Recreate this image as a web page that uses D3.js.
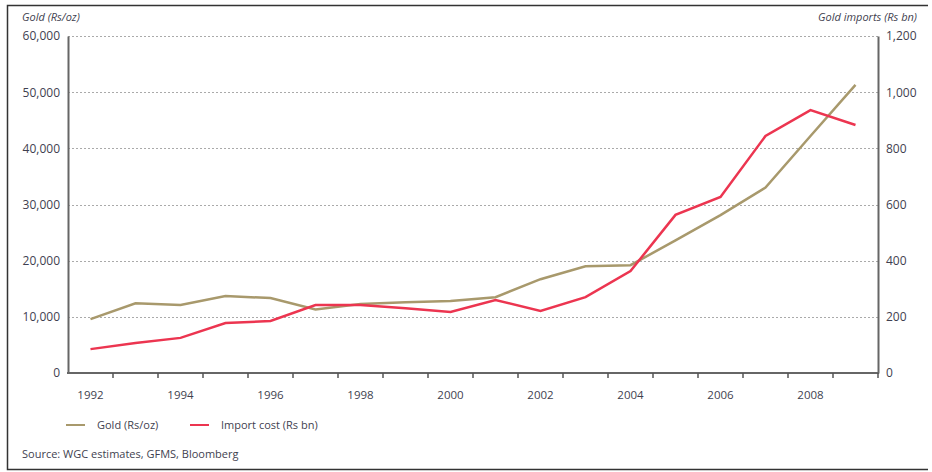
<!DOCTYPE html>
<html>
<head>
<meta charset="utf-8">
<title>Gold price and import cost</title>
<script src="https://cdn.jsdelivr.net/npm/d3@7/dist/d3.min.js"></script>
<style>
  body { margin: 0; background: #fff; }
  svg text { font-family: "Open Sans", "Liberation Sans", sans-serif; fill: #3f3f50; }
</style>
</head>
<body>
<script>
// data
var years = [1992,1993,1994,1995,1996,1997,1998,1999,2000,2001,2002,2003,2004,2005,2006,2007,2008,2009];
var goldPrice = [9600,12400,12100,13700,13350,11300,12300,12600,12800,13500,16700,19000,19200,23600,28100,33000,42200,51300];
var importCost = [85,107,125,178,185,242,242,231,217,260,221,270,363,563,627,844,936,883];
var leftTicks = [0,10000,20000,30000,40000,50000,60000];
var rightTicks = [0,200,400,600,800,1000,1200];
var yearLabels = [1992,1994,1996,1998,2000,2002,2004,2006,2008];

var W = 932, H = 472;
var mLeft = 68, mRight = 878, mTop = 36, mBottom = 373;
var goldCol = "#a8996c", redCol = "#ec3550";

var svg = d3.select("body").append("svg").attr("width", W).attr("height", H);

// frame
svg.append("path")
    .attr("d", "M928,5.5H7.5V469.5H928")
    .attr("fill", "none").attr("stroke", "#333").attr("stroke-width", 1.5);

var x = d3.scaleBand().domain(years).range([mLeft, mRight]);
var yL = d3.scaleLinear().domain([0, 60000]).range([mBottom, mTop]);
var yR = d3.scaleLinear().domain([0, 1200]).range([mBottom, mTop]);

// grid
svg.append("g").selectAll("line").data(leftTicks.slice(1)).enter().append("line")
    .attr("x1", mLeft).attr("x2", mRight)
    .attr("y1", function(d) { return Math.round(yL(d)) + 0.5; })
    .attr("y2", function(d) { return Math.round(yL(d)) + 0.5; })
    .attr("stroke", "#aaa").attr("stroke-dasharray", "2,2").attr("stroke-width", 1);

// left axis
var gl = svg.append("g").attr("transform", "translate(" + mLeft + ",0)")
    .call(d3.axisLeft(yL).tickValues(leftTicks).tickSize(0).tickPadding(8).tickFormat(d3.format(",")));
gl.select(".domain").attr("stroke", "#666").attr("stroke-width", 2);
gl.selectAll("text").style("font-size", "12px");

// right axis
var gr = svg.append("g").attr("transform", "translate(" + mRight + ",0)")
    .call(d3.axisRight(yR).tickValues(rightTicks).tickSize(0).tickPadding(8).tickFormat(d3.format(",")));
gr.select(".domain").attr("stroke", "#666").attr("stroke-width", 2);
gr.selectAll("text").style("font-size", "12px");

// bottom axis: ticks on band edges, labels on every other year
var gb = svg.append("g").attr("transform", "translate(0," + mBottom + ")");
gb.append("line").attr("x1", mLeft - 1).attr("x2", mRight + 1)
    .attr("stroke", "#666").attr("stroke-width", 2);
gb.selectAll(".tk").data(years).enter().append("line")
    .attr("x1", function(d) { return x(d) + x.step(); })
    .attr("x2", function(d) { return x(d) + x.step(); })
    .attr("y1", 0).attr("y2", 5)
    .attr("stroke", "#555").attr("stroke-width", 1.5);
gb.selectAll(".lb").data(yearLabels).enter().append("text")
    .attr("x", function(d) { return x(d) + x.bandwidth() / 2; })
    .attr("y", 26).attr("text-anchor", "middle")
    .style("font-size", "11.5px").text(function(d) { return d; });

// axis titles
svg.append("text").attr("x", 22).attr("y", 21)
    .style("font-size", "11px").style("font-style", "italic").text("Gold (Rs/oz)");
svg.append("text").attr("x", 917).attr("y", 21).attr("text-anchor", "end")
    .style("font-size", "11px").style("font-style", "italic").text("Gold imports (Rs bn)");

// lines
var cx = function(i) { return x(years[i]) + x.bandwidth() / 2; };
svg.append("path")
    .attr("d", d3.line().x(function(d, i) { return cx(i); }).y(function(d) { return yL(d); })(goldPrice))
    .attr("fill", "none").attr("stroke", goldCol).attr("stroke-width", 2.5);
svg.append("path")
    .attr("d", d3.line().x(function(d, i) { return cx(i); }).y(function(d) { return yR(d); })(importCost))
    .attr("fill", "none").attr("stroke", redCol).attr("stroke-width", 2.5);

// legend
var legend = [
    {name: "Gold (Rs/oz)", color: goldCol, x: 66},
    {name: "Import cost (Rs bn)", color: redCol, x: 190}
];
var lg = svg.append("g").selectAll("g").data(legend).enter().append("g");
lg.append("line")
    .attr("x1", function(d) { return d.x; }).attr("x2", function(d) { return d.x + 19; })
    .attr("y1", 425).attr("y2", 425)
    .attr("stroke", function(d) { return d.color; }).attr("stroke-width", 2);
lg.append("text")
    .attr("x", function(d) { return d.x + 31; }).attr("y", 429)
    .style("font-size", "11px").text(function(d) { return d.name; });

svg.append("text").attr("x", 22).attr("y", 458)
    .style("font-size", "11px").text("Source: WGC estimates, GFMS, Bloomberg");
</script>
</body>
</html>
